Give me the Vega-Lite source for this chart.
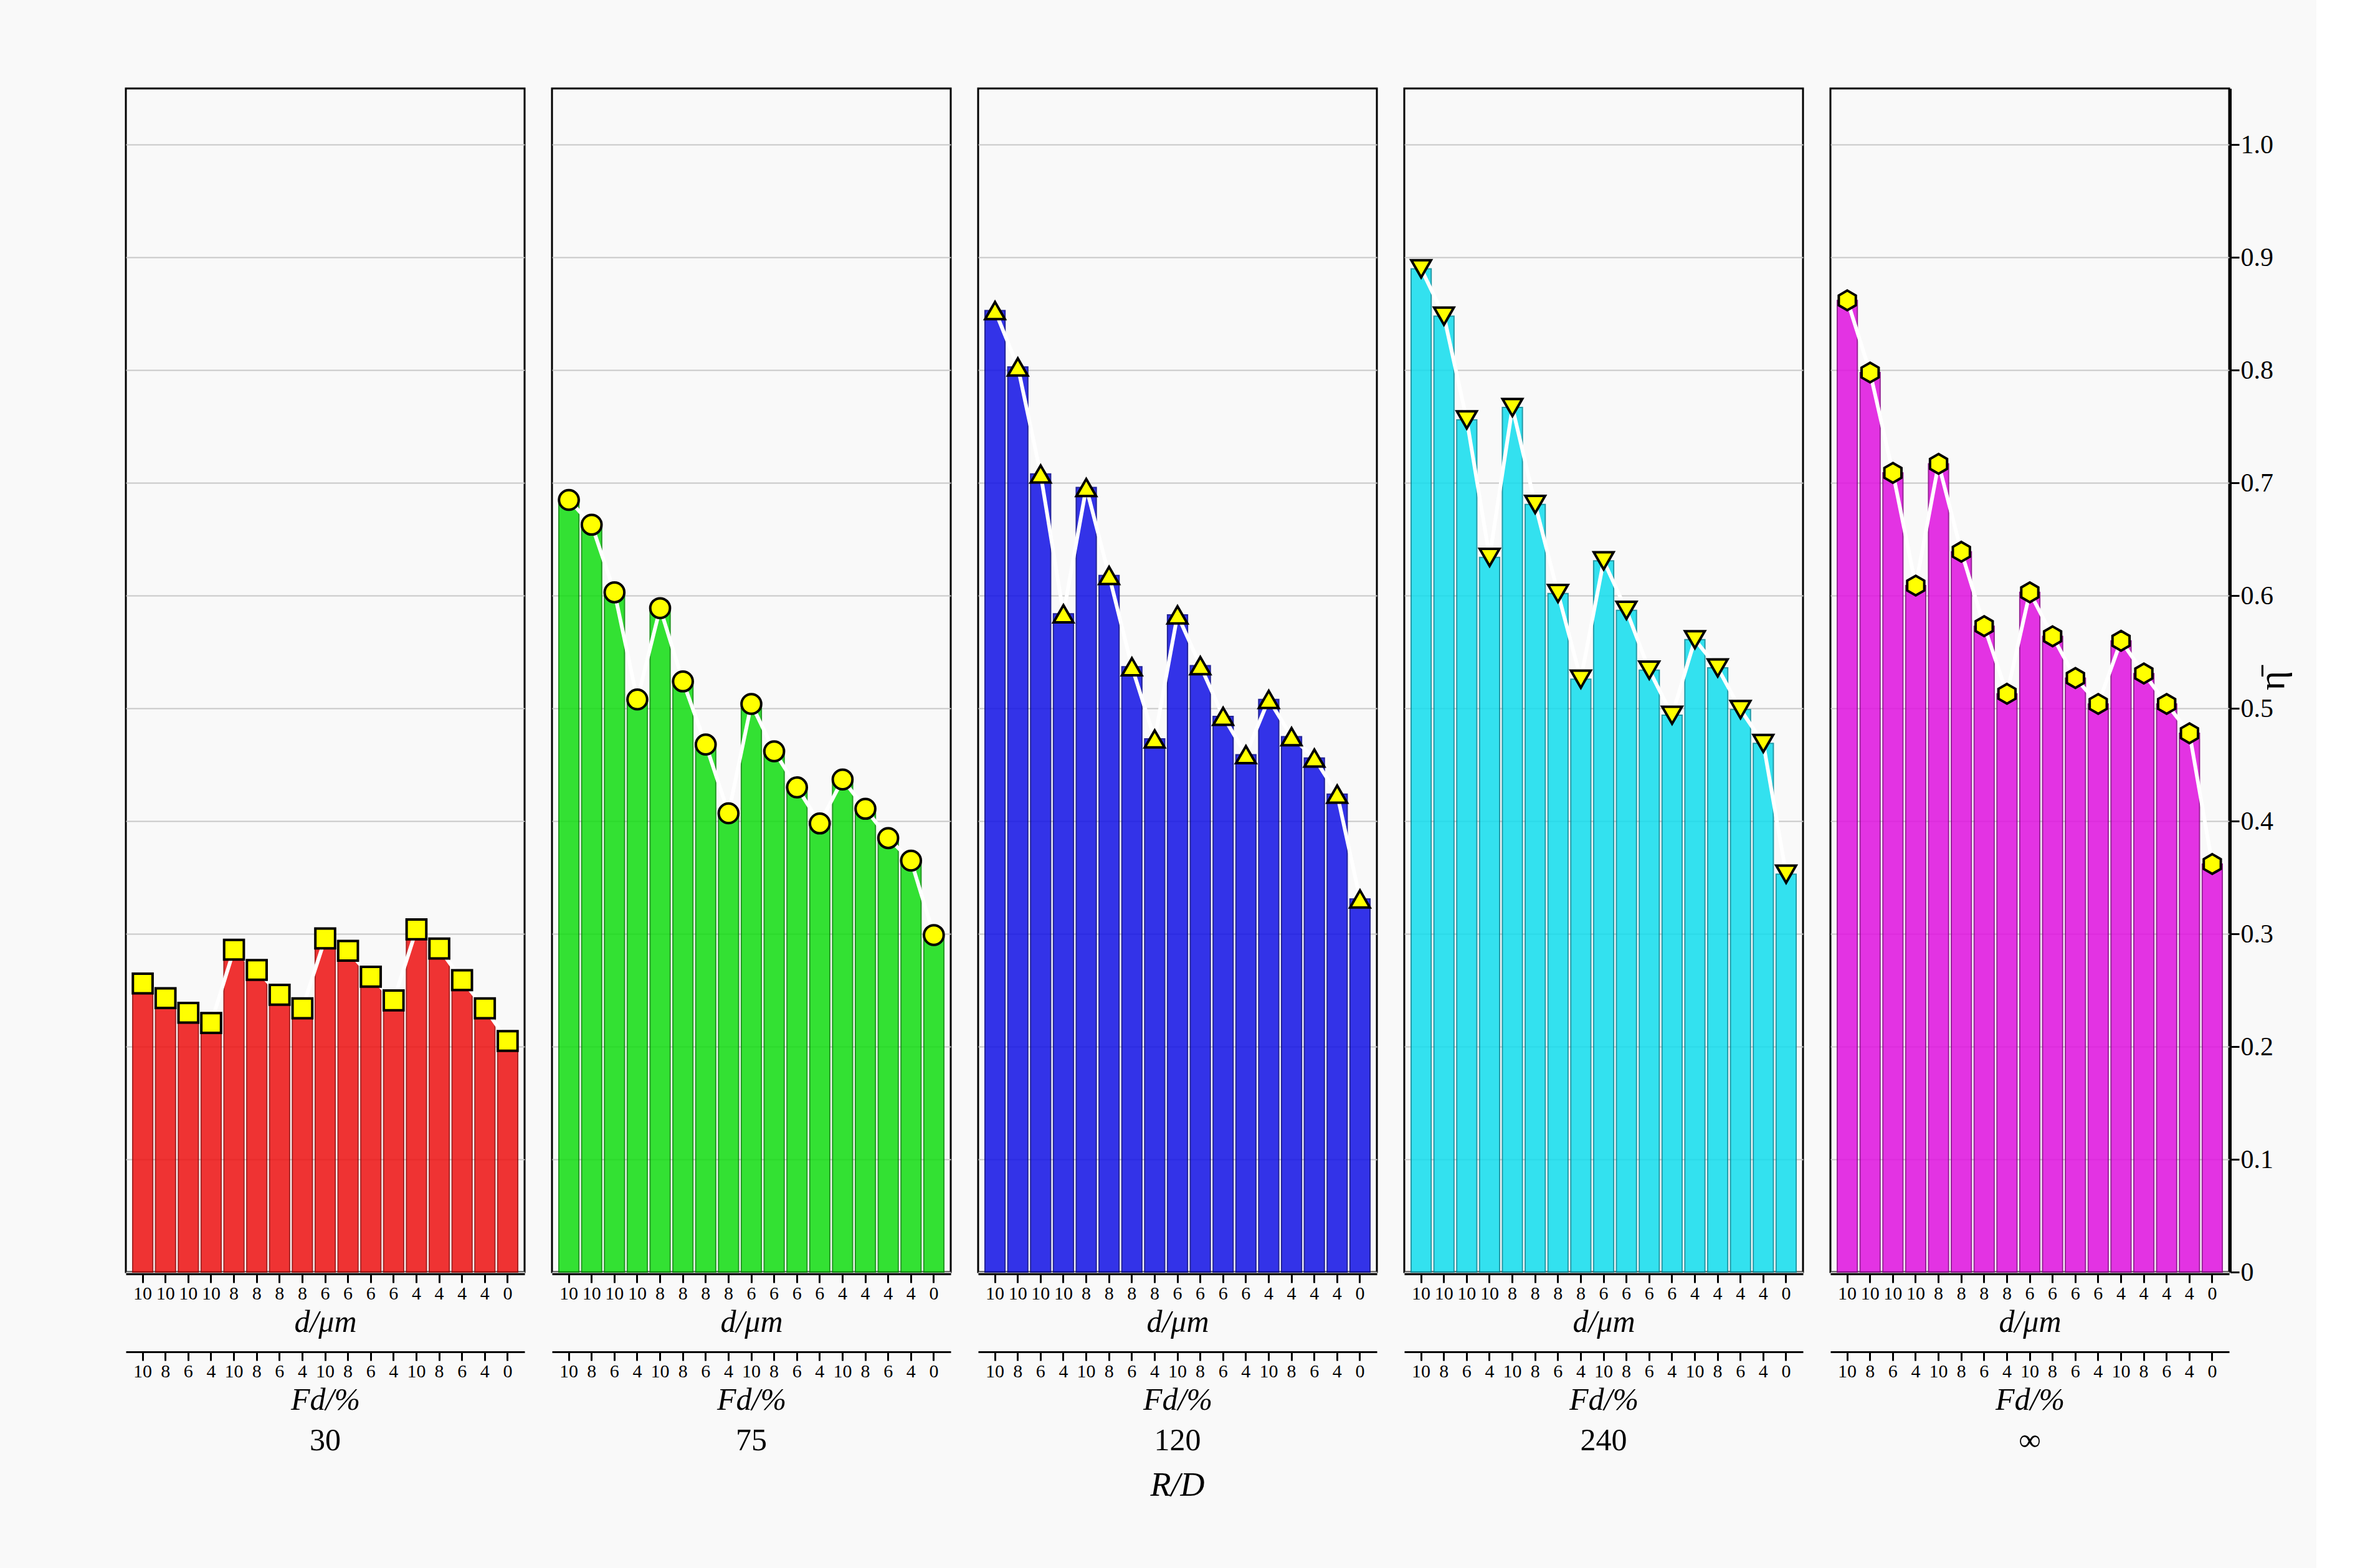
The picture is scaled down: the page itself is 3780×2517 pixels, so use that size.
{
  "$schema": "https://vega.github.io/schema/vega-lite/v6.json",
  "background": "#f9f9f9",
  "padding": {"left": 200, "top": 140, "right": 40, "bottom": 110},
  "config": {
    "font": "Liberation Serif",
    "view": {"stroke": "#000000", "strokeWidth": 3},
    "axis": {
      "labelFont": "Liberation Serif",
      "titleFont": "Liberation Serif",
      "labelFontSize": 42,
      "titleFontSize": 50,
      "titleFontWeight": "normal",
      "labelColor": "#000000",
      "titleColor": "#000000",
      "domainColor": "#000000",
      "tickColor": "#000000",
      "domainWidth": 3,
      "tickWidth": 3,
      "tickSize": 14
    }
  },
  "data": {
    "values": [
      {"RD": "30", "idx": 1, "d": 10, "Fd": 10, "eta": 0.256},
      {"RD": "30", "idx": 2, "d": 10, "Fd": 8, "eta": 0.243},
      {"RD": "30", "idx": 3, "d": 10, "Fd": 6, "eta": 0.230},
      {"RD": "30", "idx": 4, "d": 10, "Fd": 4, "eta": 0.221},
      {"RD": "30", "idx": 5, "d": 8, "Fd": 10, "eta": 0.286},
      {"RD": "30", "idx": 6, "d": 8, "Fd": 8, "eta": 0.268},
      {"RD": "30", "idx": 7, "d": 8, "Fd": 6, "eta": 0.246},
      {"RD": "30", "idx": 8, "d": 8, "Fd": 4, "eta": 0.234},
      {"RD": "30", "idx": 9, "d": 6, "Fd": 10, "eta": 0.296},
      {"RD": "30", "idx": 10, "d": 6, "Fd": 8, "eta": 0.285},
      {"RD": "30", "idx": 11, "d": 6, "Fd": 6, "eta": 0.262},
      {"RD": "30", "idx": 12, "d": 6, "Fd": 4, "eta": 0.241},
      {"RD": "30", "idx": 13, "d": 4, "Fd": 10, "eta": 0.304},
      {"RD": "30", "idx": 14, "d": 4, "Fd": 8, "eta": 0.287},
      {"RD": "30", "idx": 15, "d": 4, "Fd": 6, "eta": 0.259},
      {"RD": "30", "idx": 16, "d": 4, "Fd": 4, "eta": 0.234},
      {"RD": "30", "idx": 17, "d": 0, "Fd": 0, "eta": 0.205},
      {"RD": "75", "idx": 1, "d": 10, "Fd": 10, "eta": 0.685},
      {"RD": "75", "idx": 2, "d": 10, "Fd": 8, "eta": 0.663},
      {"RD": "75", "idx": 3, "d": 10, "Fd": 6, "eta": 0.603},
      {"RD": "75", "idx": 4, "d": 10, "Fd": 4, "eta": 0.508},
      {"RD": "75", "idx": 5, "d": 8, "Fd": 10, "eta": 0.589},
      {"RD": "75", "idx": 6, "d": 8, "Fd": 8, "eta": 0.524},
      {"RD": "75", "idx": 7, "d": 8, "Fd": 6, "eta": 0.468},
      {"RD": "75", "idx": 8, "d": 8, "Fd": 4, "eta": 0.407},
      {"RD": "75", "idx": 9, "d": 6, "Fd": 10, "eta": 0.504},
      {"RD": "75", "idx": 10, "d": 6, "Fd": 8, "eta": 0.462},
      {"RD": "75", "idx": 11, "d": 6, "Fd": 6, "eta": 0.430},
      {"RD": "75", "idx": 12, "d": 6, "Fd": 4, "eta": 0.398},
      {"RD": "75", "idx": 13, "d": 4, "Fd": 10, "eta": 0.437},
      {"RD": "75", "idx": 14, "d": 4, "Fd": 8, "eta": 0.411},
      {"RD": "75", "idx": 15, "d": 4, "Fd": 6, "eta": 0.385},
      {"RD": "75", "idx": 16, "d": 4, "Fd": 4, "eta": 0.365},
      {"RD": "75", "idx": 17, "d": 0, "Fd": 0, "eta": 0.299},
      {"RD": "120", "idx": 1, "d": 10, "Fd": 10, "eta": 0.853},
      {"RD": "120", "idx": 2, "d": 10, "Fd": 8, "eta": 0.803},
      {"RD": "120", "idx": 3, "d": 10, "Fd": 6, "eta": 0.708},
      {"RD": "120", "idx": 4, "d": 10, "Fd": 4, "eta": 0.584},
      {"RD": "120", "idx": 5, "d": 8, "Fd": 10, "eta": 0.696},
      {"RD": "120", "idx": 6, "d": 8, "Fd": 8, "eta": 0.618},
      {"RD": "120", "idx": 7, "d": 8, "Fd": 6, "eta": 0.537},
      {"RD": "120", "idx": 8, "d": 8, "Fd": 4, "eta": 0.473},
      {"RD": "120", "idx": 9, "d": 6, "Fd": 10, "eta": 0.583},
      {"RD": "120", "idx": 10, "d": 6, "Fd": 8, "eta": 0.538},
      {"RD": "120", "idx": 11, "d": 6, "Fd": 6, "eta": 0.493},
      {"RD": "120", "idx": 12, "d": 6, "Fd": 4, "eta": 0.459},
      {"RD": "120", "idx": 13, "d": 4, "Fd": 10, "eta": 0.508},
      {"RD": "120", "idx": 14, "d": 4, "Fd": 8, "eta": 0.475},
      {"RD": "120", "idx": 15, "d": 4, "Fd": 6, "eta": 0.456},
      {"RD": "120", "idx": 16, "d": 4, "Fd": 4, "eta": 0.424},
      {"RD": "120", "idx": 17, "d": 0, "Fd": 0, "eta": 0.331},
      {"RD": "240", "idx": 1, "d": 10, "Fd": 10, "eta": 0.890},
      {"RD": "240", "idx": 2, "d": 10, "Fd": 8, "eta": 0.848},
      {"RD": "240", "idx": 3, "d": 10, "Fd": 6, "eta": 0.756},
      {"RD": "240", "idx": 4, "d": 10, "Fd": 4, "eta": 0.634},
      {"RD": "240", "idx": 5, "d": 8, "Fd": 10, "eta": 0.767},
      {"RD": "240", "idx": 6, "d": 8, "Fd": 8, "eta": 0.681},
      {"RD": "240", "idx": 7, "d": 8, "Fd": 6, "eta": 0.602},
      {"RD": "240", "idx": 8, "d": 8, "Fd": 4, "eta": 0.526},
      {"RD": "240", "idx": 9, "d": 6, "Fd": 10, "eta": 0.631},
      {"RD": "240", "idx": 10, "d": 6, "Fd": 8, "eta": 0.587},
      {"RD": "240", "idx": 11, "d": 6, "Fd": 6, "eta": 0.534},
      {"RD": "240", "idx": 12, "d": 6, "Fd": 4, "eta": 0.494},
      {"RD": "240", "idx": 13, "d": 4, "Fd": 10, "eta": 0.561},
      {"RD": "240", "idx": 14, "d": 4, "Fd": 8, "eta": 0.536},
      {"RD": "240", "idx": 15, "d": 4, "Fd": 6, "eta": 0.499},
      {"RD": "240", "idx": 16, "d": 4, "Fd": 4, "eta": 0.469},
      {"RD": "240", "idx": 17, "d": 0, "Fd": 0, "eta": 0.353},
      {"RD": "∞", "idx": 1, "d": 10, "Fd": 10, "eta": 0.862},
      {"RD": "∞", "idx": 2, "d": 10, "Fd": 8, "eta": 0.798},
      {"RD": "∞", "idx": 3, "d": 10, "Fd": 6, "eta": 0.709},
      {"RD": "∞", "idx": 4, "d": 10, "Fd": 4, "eta": 0.609},
      {"RD": "∞", "idx": 5, "d": 8, "Fd": 10, "eta": 0.717},
      {"RD": "∞", "idx": 6, "d": 8, "Fd": 8, "eta": 0.639},
      {"RD": "∞", "idx": 7, "d": 8, "Fd": 6, "eta": 0.573},
      {"RD": "∞", "idx": 8, "d": 8, "Fd": 4, "eta": 0.513},
      {"RD": "∞", "idx": 9, "d": 6, "Fd": 10, "eta": 0.603},
      {"RD": "∞", "idx": 10, "d": 6, "Fd": 8, "eta": 0.564},
      {"RD": "∞", "idx": 11, "d": 6, "Fd": 6, "eta": 0.527},
      {"RD": "∞", "idx": 12, "d": 6, "Fd": 4, "eta": 0.504},
      {"RD": "∞", "idx": 13, "d": 4, "Fd": 10, "eta": 0.560},
      {"RD": "∞", "idx": 14, "d": 4, "Fd": 8, "eta": 0.531},
      {"RD": "∞", "idx": 15, "d": 4, "Fd": 6, "eta": 0.504},
      {"RD": "∞", "idx": 16, "d": 4, "Fd": 4, "eta": 0.478},
      {"RD": "∞", "idx": 17, "d": 0, "Fd": 0, "eta": 0.362}
    ]
  },
  "facet": {
    "column": {
      "field": "RD",
      "type": "nominal",
      "sort": ["30", "75", "120", "240", "∞"],
      "title": "R/D",
      "header": {
        "labelOrient": "bottom",
        "titleOrient": "bottom",
        "labelFont": "Liberation Serif",
        "titleFont": "Liberation Serif",
        "labelFontSize": 50,
        "titleFontSize": 54,
        "titleFontStyle": "italic",
        "titleFontWeight": "normal",
        "labelColor": "#000000",
        "titleColor": "#000000",
        "labelPadding": 16,
        "titlePadding": 10
      }
    }
  },
  "spacing": 40,
  "spec": {
    "width": 640,
    "height": 1900,
    "layer": [
      {
        "mark": {"type": "bar", "opacity": 0.85, "strokeWidth": 2},
        "encoding": {
          "x": {
            "field": "idx",
            "type": "ordinal",
            "scale": {"paddingInner": 0.12, "paddingOuter": 0.3},
            "axis": {
              "title": "d/μm",
              "titleFontStyle": "italic",
              "labelAngle": 0,
              "labelOverlap": false,
              "labelExpr": "['10','10','10','10','8','8','8','8','6','6','6','6','4','4','4','4','0'][datum.value - 1]",
              "labelFontSize": 30,
              "titlePadding": 6
            }
          },
          "y": {
            "field": "eta",
            "type": "quantitative",
            "scale": {"domain": [0, 1.05], "nice": false},
            "axis": {
              "orient": "right",
              "title": "η̄",
              "titleAngle": -90,
              "titleFontSize": 60,
              "titlePadding": 30,
              "values": [0, 0.1, 0.2, 0.3, 0.4, 0.5, 0.6, 0.7, 0.8, 0.9, 1.0],
              "labelExpr": "datum.value == 0 ? '0' : format(datum.value, '.1f')",
              "grid": true,
              "gridColor": "#c8c8c8",
              "gridWidth": 2
            }
          },
          "color": {
            "field": "RD",
            "type": "nominal",
            "scale": {
              "domain": ["30", "75", "120", "240", "∞"],
              "range": ["#ee1111", "#11dd11", "#1111e6", "#11ddee", "#e011e0"]
            },
            "legend": null
          },
          "stroke": {
            "field": "RD",
            "type": "nominal",
            "scale": {
              "domain": ["30", "75", "120", "240", "∞"],
              "range": ["#990000", "#008800", "#000088", "#008a99", "#880088"]
            },
            "legend": null
          }
        }
      },
      {
        "mark": {"type": "line", "color": "#ffffff", "strokeWidth": 6},
        "encoding": {
          "x": {
            "field": "idx",
            "type": "ordinal",
            "axis": {
              "orient": "bottom",
              "offset": 125,
              "title": "Fd/%",
              "titleFontStyle": "italic",
              "labelAngle": 0,
              "labelOverlap": false,
              "labelExpr": "['10','8','6','4','10','8','6','4','10','8','6','4','10','8','6','4','0'][datum.value - 1]",
              "labelFontSize": 30,
              "titlePadding": 6
            }
          },
          "y": {"field": "eta", "type": "quantitative"}
        }
      },
      {
        "mark": {"type": "point", "filled": true, "fill": "#ffff00", "stroke": "#000000", "strokeWidth": 4, "size": 1000, "opacity": 1},
        "encoding": {
          "x": {"field": "idx", "type": "ordinal", "axis": null},
          "y": {"field": "eta", "type": "quantitative"},
          "shape": {
            "field": "RD",
            "type": "nominal",
            "scale": {
              "domain": ["30", "75", "120", "240", "∞"],
              "range": ["square", "circle", "triangle-up", "triangle-down", "M0,-1L0.866,-0.5L0.866,0.5L0,1L-0.866,0.5L-0.866,-0.5Z"]
            },
            "legend": null
          }
        }
      }
    ],
    "resolve": {"axis": {"x": "independent"}}
  }
}
